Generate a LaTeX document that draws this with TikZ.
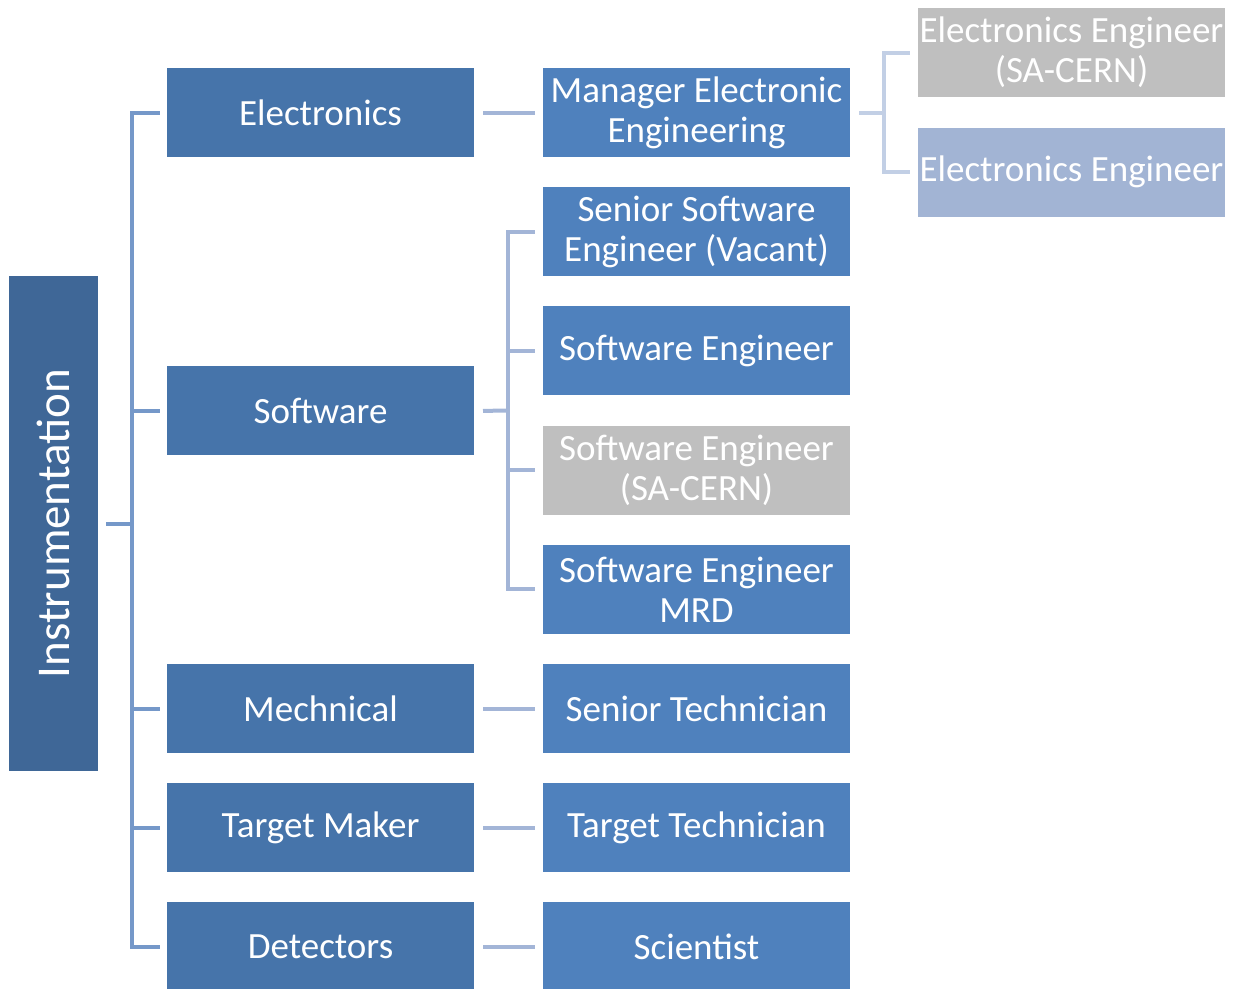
\documentclass[tikz,border=0pt]{standalone}
\usepackage{fontspec}
\setmainfont{Carlito}
\usepackage{tikz}
\usetikzlibrary{positioning}

\definecolor{rootblue}{HTML}{3F6797}
\definecolor{oneblue}{HTML}{4674AA}
\definecolor{twoblue}{HTML}{4F81BD}
\definecolor{paleblue}{HTML}{A2B4D4}
\definecolor{vacantgray}{HTML}{BFBFBF}
\definecolor{busone}{HTML}{7598C9}
\definecolor{bustwo}{HTML}{A3B5D7}
\definecolor{busthree}{HTML}{C2CFE5}

\tikzset{
  orgbox/.style={rectangle, text=white, inner sep=0pt, align=center,
    minimum width=307pt, minimum height=89pt,
    font=\fontsize{37}{40}\selectfont},
  lvlone/.style={orgbox, fill=oneblue},
  lvltwo/.style={orgbox, fill=twoblue},
  lvlthree/.style={orgbox, fill=paleblue},
  sacern/.style={orgbox, fill=vacantgray}
}

\begin{document}
\begin{tikzpicture}[x=1pt,y=-1pt,
      on grid,
      node distance=119.2pt,
      line width=4pt]

    \useasboundingbox (0,0) rectangle (1236,988);

    % root
    \node[rectangle, fill=rootblue, text=white, minimum width=495pt,
      minimum height=89pt, inner sep=0pt, rotate=90,
      font=\fontsize{47}{50}\selectfont]
      (Instr) at (53.5,523.5) {Instrumentation};

    % second column
    \node[lvltwo]
      (Manager) at (696.5,112.5) {Manager Electronic\\Engineering};
    \node[lvltwo]
      (SeniorSW) [below=of Manager] {Senior Software\\Engineer (Vacant)};
    \node[lvltwo]
      (SWEng) [below=of SeniorSW] {Software Engineer};
    \node[sacern]
      (SWCern) [below=of SWEng] {Software Engineer\\(SA-CERN)};
    \node[lvltwo]
      (SWMrd) [below=of SWCern] {Software Engineer\\MRD};
    \node[lvltwo]
      (SeniorTech) [below=of SWMrd] {Senior Technician};
    \node[lvltwo]
      (TargetTech) [below=of SeniorTech] {Target Technician};
    \node[lvltwo]
      (Scientist) [below=of TargetTech] {Scientist};

    % first column
    \node[lvlone]
      (Electronics) [left=376pt of Manager] {Electronics};
    \node[lvlone]
      (Software) [left=376pt of SWEng, yshift=-60pt] {Software};
    \node[lvlone]
      (Mechnical) [left=376pt of SeniorTech] {Mechnical};
    \node[lvlone]
      (TargetMaker) [left=376pt of TargetTech] {Target Maker};
    \node[lvlone]
      (Detectors) [left=376pt of Scientist] {Detectors};

    % third column
    \node[sacern]
      (EECern) at (1071.5,52.5) {Electronics Engineer\\(SA-CERN)};
    \node[lvlthree]
      (EEng) [below=of EECern, yshift=-0.5pt] {Electronics Engineer};

    % bus points
    \coordinate (InstrBus) at (132,523.5);
    \coordinate (SoftBus) at (508,410.5);
    \coordinate (ManagerBus) at (884,112.5);

    \draw[busone] ([xshift=6pt]Instr.south) -- (InstrBus);
    \foreach \n in {Electronics,Software,Mechnical,TargetMaker,Detectors}
      \draw[busone] (InstrBus) |- ([xshift=-5pt]\n.west);

    \draw[bustwo] ([xshift=7pt]Software.east) -- (SoftBus);
    \foreach \n in {SeniorSW,SWEng,SWCern,SWMrd}
      \draw[bustwo] (SoftBus) |- ([xshift=-6pt]\n.west);

    \draw[busthree] ([xshift=7pt]Manager.east) -- (ManagerBus);
    \foreach \n in {EECern,EEng}
      \draw[busthree] (ManagerBus) |- ([xshift=-6pt]\n.west);

    \path[bustwo, shorten <=7pt, shorten >=6pt]
      (Electronics) edge (Manager)
      (Mechnical) edge (SeniorTech)
      (TargetMaker) edge (TargetTech)
      (Detectors) edge (Scientist);

  \end{tikzpicture}
\end{document}
